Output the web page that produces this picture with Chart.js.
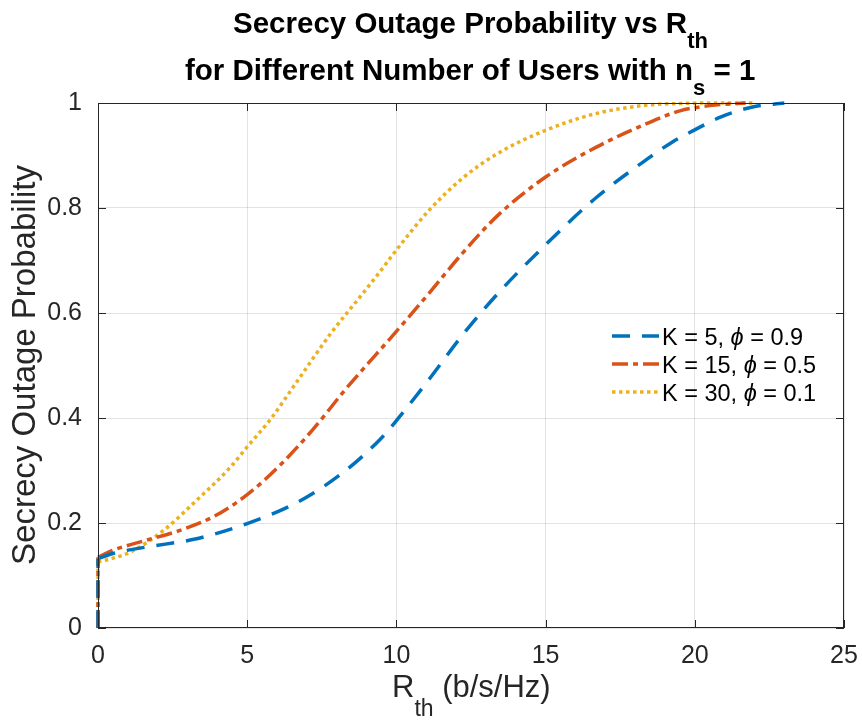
<!DOCTYPE html>
<html>
<head>
<meta charset="utf-8">
<script src="https://cdn.jsdelivr.net/npm/chart.js@4.4.1/dist/chart.umd.min.js"></script>
<style>
  body { margin: 0; background: #fff; }
  #wrap { width: 862px; height: 720px; }
</style>
</head>
<body>
<div id="wrap"><canvas id="chart" width="862" height="720"></canvas></div>
<script>
// values
const labels = ['K = 5, ', 'K = 15, ', 'K = 30, '];
const phiValues = ['0.9', '0.5', '0.1'];

const xK5 = [0, 0.5, 1.6, 3.3, 5, 6.7, 8.3, 9.5, 10, 11.1, 12.2, 13.4, 15, 16.7, 18.4, 19.2, 19.9, 20.9, 21.9, 23];
const yK5 = [0.132, 0.142, 0.154, 0.170, 0.199, 0.240, 0.300, 0.362, 0.395, 0.474, 0.557, 0.637, 0.730, 0.820, 0.893, 0.924, 0.946, 0.974, 0.992, 1.0];

const xK15 = [0, 0.5, 1.6, 2.75, 3.9, 5, 6.1, 7.2, 8.3, 10, 11.1, 12.2, 13.4, 15, 16.7, 18.4, 19.5, 20.5, 21.7];
const yK15 = [0.135, 0.148, 0.167, 0.186, 0.213, 0.254, 0.310, 0.378, 0.455, 0.565, 0.638, 0.713, 0.786, 0.859, 0.916, 0.961, 0.985, 0.995, 1.0];

const xK30 = [0, 0.5, 1.1, 2.2, 3.3, 4.4, 5, 5.8, 6.7, 7.8, 8.8, 9.4, 10, 11.1, 12.2, 13.4, 15, 16.7, 18.4, 19.5, 21, 22];
const yK30 = [0.126, 0.133, 0.145, 0.186, 0.243, 0.304, 0.345, 0.399, 0.472, 0.561, 0.632, 0.675, 0.720, 0.796, 0.856, 0.904, 0.948, 0.980, 0.996, 0.999, 1.0, 1.0];

const xTicks = [0, 5, 10, 15, 20, 25];
const yTicks = [0, 0.2, 0.4, 0.6, 0.8, 1];

const colors = ['#0072BD', '#D95319', '#EDB120'];
const dashes = [[18, 12], [16, 5, 5, 5], [3.5, 3.5]];
const axisColor = '#262626';
const FONT = '"Liberation Sans", Arial, Helvetica, sans-serif';

function pts(xs, ys) {
  return xs.map((x, i) => ({ x: x, y: ys[i] }));
}

// draw text pieces in a row: [text, sizePx, dy, bold, italic]
function drawRun(ctx, x, y, parts) {
  parts.forEach(p => {
    ctx.font = (p[4] ? 'italic ' : '') + (p[3] ? 'bold ' : '') + p[1] + 'px ' + FONT;
    ctx.fillText(p[0], x, y + p[2]);
    x += ctx.measureText(p[0]).width;
  });
  return x;
}

const decor = {
  id: 'decor',
  afterDraw(chart) {
    const ctx = chart.ctx;
    const a = chart.chartArea;
    const xs = chart.scales.x, ys = chart.scales.y;
    ctx.save();

    // box and inward ticks
    ctx.strokeStyle = axisColor;
    ctx.lineWidth = 1;
    ctx.strokeRect(a.left + 0.5, a.top + 0.5, a.right - a.left - 1, a.bottom - a.top - 1);
    ctx.beginPath();
    xTicks.forEach(v => {
      const px = Math.round(xs.getPixelForValue(v)) + 0.5;
      ctx.moveTo(px, a.bottom); ctx.lineTo(px, a.bottom - 8);
      ctx.moveTo(px, a.top); ctx.lineTo(px, a.top + 8);
    });
    yTicks.forEach(v => {
      const py = Math.round(ys.getPixelForValue(v)) + 0.5;
      ctx.moveTo(a.left, py); ctx.lineTo(a.left + 8, py);
      ctx.moveTo(a.right, py); ctx.lineTo(a.right - 8, py);
    });
    ctx.stroke();

    // title
    ctx.fillStyle = '#000';
    ctx.textBaseline = 'alphabetic';
    ctx.textAlign = 'left';
    drawRun(ctx, 233, 33, [['Secrecy Outage Probability vs R', 29.5, 0, true], ['th', 22, 15, true]]);
    drawRun(ctx, 185, 80, [['for Different Number of Users with n', 29.5, 0, true], ['s', 22, 15, true], [' = 1', 29.5, 0, true]]);

    // axis titles
    ctx.fillStyle = axisColor;
    drawRun(ctx, 392, 697, [['R', 31, 0], ['th', 23, 19], [' (b/s/Hz)', 31, 0]]);
    ctx.translate(35, 365);
    ctx.rotate(-Math.PI / 2);
    ctx.textAlign = 'center';
    ctx.font = '33px ' + FONT;
    ctx.fillText('Secrecy Outage Probability', 0, 0);
    ctx.setTransform(1, 0, 0, 1, 0, 0);
    ctx.textAlign = 'left';

    // legend
    const rows = [336, 364, 392];
    rows.forEach((ry, i) => {
      ctx.strokeStyle = colors[i];
      ctx.lineWidth = 3.5;
      ctx.setLineDash(dashes[i]);
      ctx.beginPath();
      ctx.moveTo(612, ry); ctx.lineTo(659, ry);
      ctx.stroke();
      ctx.setLineDash([]);
      ctx.fillStyle = '#000';
      drawRun(ctx, 662, ry + 9, [[labels[i], 23.5, 0], ['\u03D5', 23.5, 0, false, true], [' = ' + phiValues[i], 23.5, 0]]);
    });
    ctx.restore();
  }
};

const series = [[xK5, yK5], [xK15, yK15], [xK30, yK30]];

function lineStyle(i) {
  return {
    showLine: true,
    borderColor: colors[i],
    backgroundColor: colors[i],
    borderWidth: 3.5,
    borderDash: dashes[i],
    borderCapStyle: 'butt',
    pointRadius: 0,
    fill: false,
    clip: 5
  };
}

// the jump at R_th = 0 from 0 up to the first value
const jumps = series.map((s, i) => Object.assign(lineStyle(i), {
  data: pts([0, 0], [0, s[1][0]])
}));
const curves = series.map((s, i) => Object.assign(lineStyle(i), {
  label: labels[i] + '\u03D5 = ' + phiValues[i],
  data: pts(s[0], s[1]),
  cubicInterpolationMode: 'monotone'
}));

Chart.defaults.font.family = FONT;
Chart.defaults.color = axisColor;

new Chart(document.getElementById('chart'), {
  type: 'scatter',
  data: { datasets: jumps.concat(curves) },
  options: {
    responsive: false,
    animation: false,
    layout: { padding: { top: 103, right: 18, left: 0, bottom: 0 } },
    plugins: { legend: { display: false }, title: { display: false }, tooltip: { enabled: false } },
    scales: {
      x: {
        type: 'linear', min: 0, max: 25,
        afterFit: s => { s.height = 92; s.paddingLeft = 0; s.paddingRight = 0; },
        afterBuildTicks: s => { s.ticks = xTicks.map(v => ({ value: v })); },
        ticks: { font: { size: 25 }, color: axisColor, padding: 13, maxRotation: 0 },
        grid: { color: 'rgba(38,38,38,0.13)', drawTicks: false },
        border: { display: false }
      },
      y: {
        type: 'linear', min: 0, max: 1,
        afterFit: s => { s.width = 98; s.paddingTop = 0; s.paddingBottom = 0; },
        afterBuildTicks: s => { s.ticks = yTicks.map(v => ({ value: v })); },
        ticks: { font: { size: 25 }, color: axisColor, padding: 16, callback: v => String(+v.toFixed(1)) },
        grid: { color: 'rgba(38,38,38,0.13)', drawTicks: false },
        border: { display: false }
      }
    }
  },
  plugins: [decor]
});
</script>
</body>
</html>
